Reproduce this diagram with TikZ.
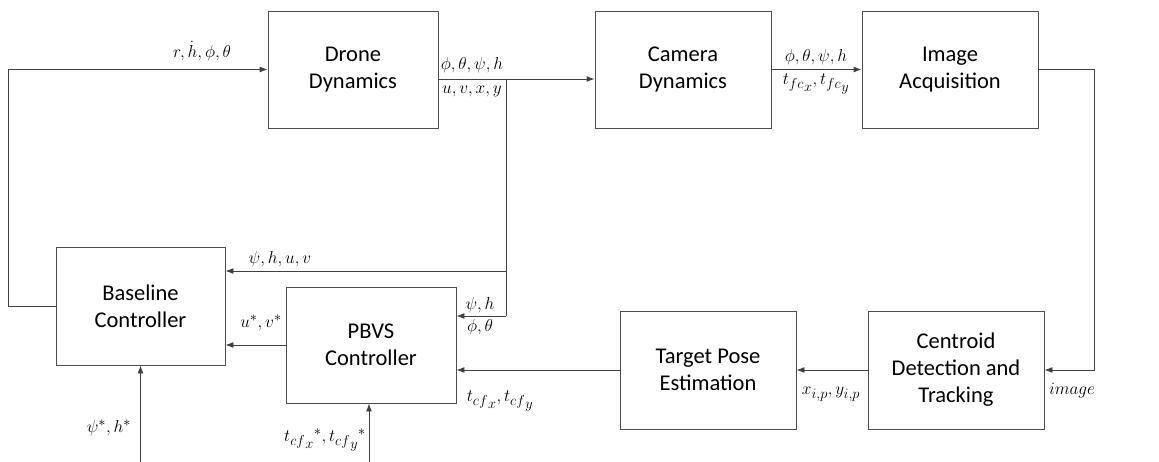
\documentclass[tikz,border=0pt]{standalone}
\usepackage{fontspec}
\setmainfont{Carlito}
\usetikzlibrary{arrows.meta}
\begin{document}
\begin{tikzpicture}[x=1pt,y=-1pt,
  line width=0.9pt,
  box/.style={draw=black!70, rectangle, align=center, font=\fontsize{22.5}{27}\selectfont, inner sep=0pt},
  arr/.style={draw=black!75, -{Latex[length=8pt,width=6pt]}},
  ln/.style={draw=black!75},
  lbl/.style={inner sep=0pt, font=\fontsize{19}{22}\selectfont}]
\useasboundingbox (0,0) rectangle (1159,462);
% boxes
\node[box, minimum width=170, minimum height=117] (drone) at (353,69.5) {Drone\\Dynamics};
\node[box, minimum width=176, minimum height=117] (camera) at (683,69.5) {Camera\\Dynamics};
\node[box, minimum width=176, minimum height=117] (image) at (950,69.5) {Image\\Acquisition};
\node[box, minimum width=169, minimum height=118] (baseline) at (140.5,306) {Baseline\\Controller};
\node[box, minimum width=170, minimum height=116] (pbvs) at (371,345) {PBVS\\Controller};
\node[box, minimum width=176, minimum height=118] (target) at (708,370) {Target Pose\\Estimation};
\node[box, minimum width=176, minimum height=118] (centroid) at (956,370) {Centroid\\Detection and\\Tracking};
% helper coordinates
\coordinate (j1) at (506,79);
\coordinate (j2) at (506,271);
\coordinate (j3) at (506,316);
\coordinate (fb) at (8,306);
\coordinate (b1) at (140.5,462);
\coordinate (b2) at (369,462);
% connectors
\draw[arr] (baseline.west) -- (fb) |- (drone.west);
\draw[arr] ([yshift=-9.5pt]drone.east) -- ([yshift=-9.5pt]camera.west);
\draw[ln] (j1) -- (j3);
\draw[arr] (j2) -- (j2 -| baseline.east);
\draw[arr] (j3) -- (j3 -| pbvs.east);
\draw[arr] (camera.east) -- (image.west);
\draw[arr] (image.east) -- ++(56,0) |- (centroid.east);
\draw[arr] (centroid.west) -- (target.west -| target.east);
\draw[arr] (target.west) -- (target.west -| pbvs.east);
\draw[arr] (pbvs.west) -- (pbvs.west -| baseline.east);
\draw[arr] (b1) -- (baseline.south);
\draw[arr] (b2) -- (b2 |- pbvs.south);
% labels
\node[lbl] (l1) at (202,51) {$r,\dot h,\phi,\theta$};
\node[lbl] (l2) at (472,65) {$\phi,\theta,\psi,h$};
\node[lbl] (l3) at (472,91) {$u,v,x,y$};
\node[lbl] (l4) at (816,57) {$\phi,\theta,\psi,h$};
\node[lbl] (l5) at (816,84) {${t_{fc}}_x,{t_{fc}}_y$};
\node[lbl] (l6) at (280,259) {$\psi,h,u,v$};
\node[lbl] (l7) at (480,305) {$\psi,h$};
\node[lbl] (l8) at (480,327) {$\phi,\theta$};
\node[lbl] (l9) at (261,323) {$u^{*},v^{*}$};
\node[lbl] (l10) at (500,401) {${t_{cf}}_x,{t_{cf}}_y$};
\node[lbl] (l11) at (831,394) {$x_{i,p},y_{i,p}$};
\node[lbl] (l12) at (1072,391) {$image$};
\node[lbl] (l13) at (109,428) {$\psi^{*},h^{*}$};
\node[lbl] (l14) at (325,440) {${{t_{cf}}_x}^{*},{{t_{cf}}_y}^{*}$};
\end{tikzpicture}
\end{document}
